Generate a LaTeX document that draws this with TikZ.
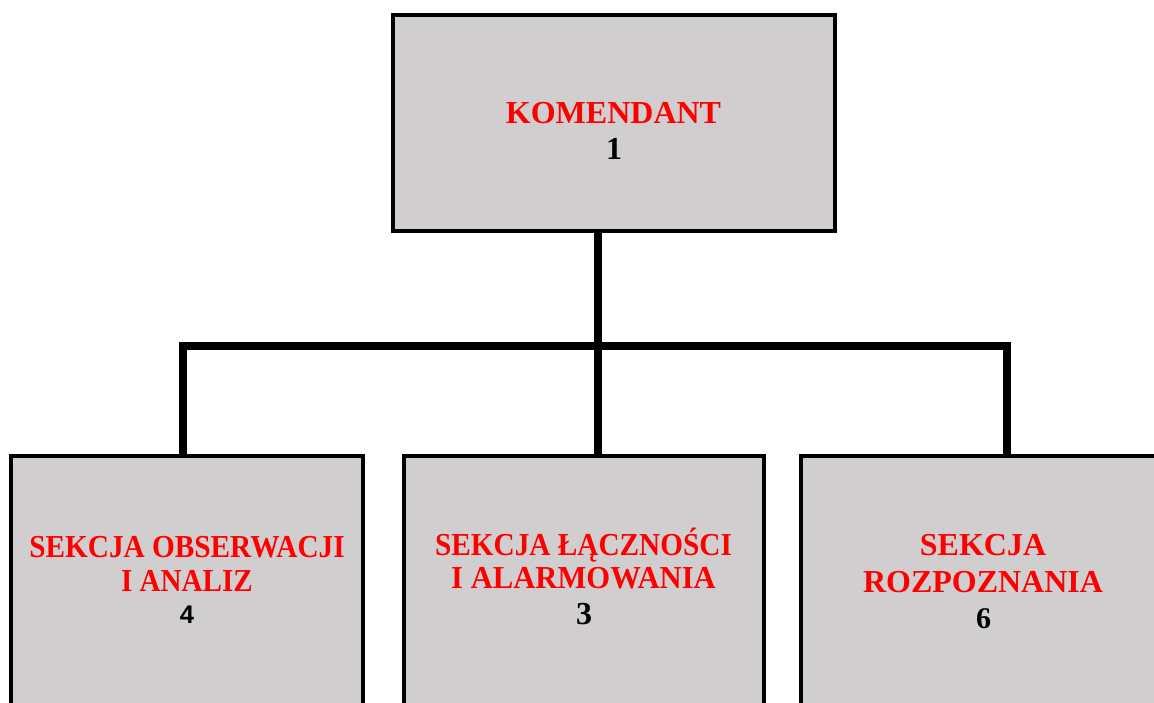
\documentclass[tikz,border=0pt]{standalone}
\usepackage{fontspec}
\usepackage{graphicx}
\setmainfont{Liberation Serif}
\newfontfamily\arialbold{Liberation Sans}
\definecolor{boxgray}{RGB}{208,206,207}
\definecolor{lblred}{RGB}{255,0,0}
\tikzset{
  unitbox/.style={draw=black, line width=4pt, fill=boxgray, rectangle, inner sep=0pt, outer sep=0pt},
  conn/.style={draw=black, line width=7.5pt, line join=miter, line cap=butt},
  lbl/.style={anchor=base, inner sep=0pt, outer sep=0pt, text=lblred, font=\fontsize{32}{36}\selectfont\bfseries},
  numlbl/.style={anchor=base, inner sep=0pt, outer sep=0pt, text=black, font=\fontsize{32}{36}\selectfont\bfseries}
}
\begin{document}
\begin{tikzpicture}[x=1pt,y=-1pt]
\useasboundingbox (0,0) rectangle (1154,702);
\clip (0,0) rectangle (1154,702);
\fill[white] (0,0) rectangle (1154,702);
% boxes
\node[unitbox, minimum width=442pt, minimum height=216pt] (T) at (614,122.5) {};
\node[unitbox, minimum width=351.4pt, minimum height=300pt] (L) at (187,606) {};
\node[unitbox, minimum width=360pt, minimum height=300pt] (M) at (584,606) {};
\node[unitbox, minimum width=364pt, minimum height=300pt] (R) at (983,606) {};
% connectors
\coordinate (hr) at (1007,346);
\draw[conn] ([xshift=-16pt]T.south) -- ([xshift=14pt]M.north);
\draw[conn] ([xshift=-4pt]L.north) |- (hr) -- ([xshift=24pt]R.north);
% labels
\node[lbl] (t1) at (613.5,123) {KOMENDANT};
\node[numlbl] (t2) at (614,159) {1};
\node[lbl] (l1) at (187,557.5) {\scalebox{0.915}[1]{SEKCJA OBSERWACJI}};
\node[lbl] (l2) at (187,591.5) {\scalebox{0.91}[1]{I ANALIZ}};
\node[numlbl, font=\fontsize{25.5}{30}\selectfont\arialbold\bfseries] (l3) at (187,623.5) {4};
\node[lbl] (m1) at (583.5,555) {\scalebox{0.915}[1]{SEKCJA ŁĄCZNOŚCI}};
\node[lbl] (m2) at (583.5,588) {\scalebox{0.957}[1]{I ALARMOWANIA}};
\node[numlbl] (m3) at (584,624) {3};
\node[lbl] (r1) at (983,555.5) {SEKCJA};
\node[lbl] (r2) at (983,592) {ROZPOZNANIA};
\node[numlbl, font=\fontsize{30}{34}\selectfont\bfseries] (r3) at (983.5,628.5) {6};
\end{tikzpicture}
\end{document}
